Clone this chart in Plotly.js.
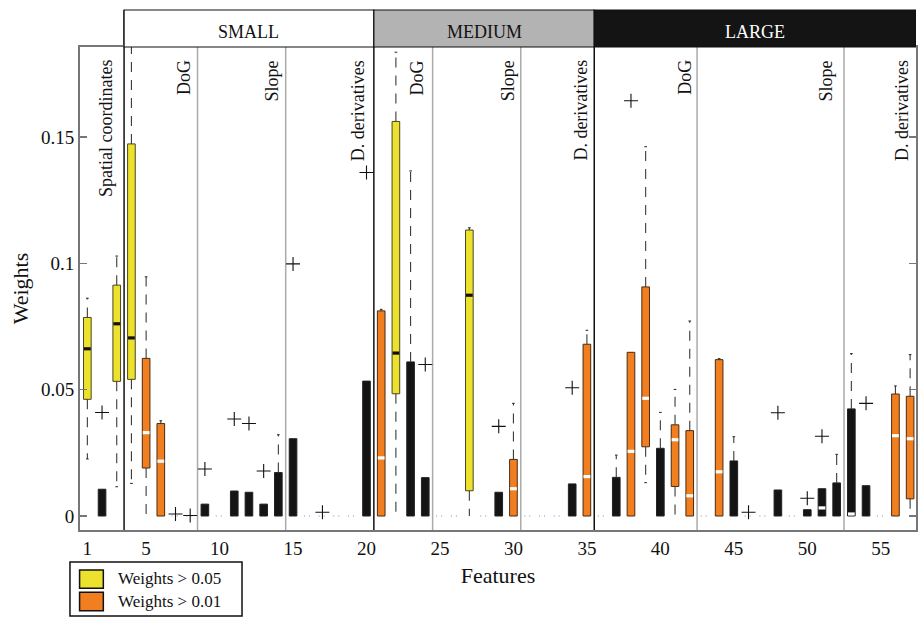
<!DOCTYPE html>
<html><head><meta charset="utf-8">
<script src="https://cdn.plot.ly/plotly-3.0.1.min.js"></script>
<style>body{margin:0;background:#fff}#chart{width:920px;height:617px}</style>
</head><body><div id="chart"></div>
<script>
// ---- data ----
const features = [1,2,3,4,5,6,7,8,9,10,11,12,13,14,15,16,17,18,19,20,21,22,23,24,25,26,27,28,29,30,31,32,33,34,35,36,37,38,39,40,41,42,43,44,45,46,47,48,49,50,51,52,53,54,55,56,57];
// Y = weights > 0.05 (yellow), O = weights > 0.01 (orange), K = other (black)
const colorClass = ['Y','K','Y','Y','O','O','K','K','K','K','K','K','K','K','K','K','K','K','K','K','O','Y','K','K','K','K','Y','K','K','O','K','K','K','K','O','K','K','O','O','K','O','O','K','O','K','K','K','K','K','K','K','K','K','K','K','O','O'];
const q1 = [0.0462,0,0.0533,0.0541,0.019,0,0,0,0,0,0,0,0,0,0,0,0,0,0,0,0,0.0484,0,0,0,0,0.010,0,0,0,0,0,0,0,0,0,0,0,0.0274,0,0.0117,0,0,0,0,0,0,0,0,0,0,0,0,0,0,0,0.0068];
const medianV = [0.0662,0,0.0761,0.0705,0.033,0.0217,0,0,0,0,0,0,0,0,0,0,0,0,0,0,0.023,0.0645,0,0,0,0,0.0874,0,0,0.0108,0,0,0,0,0.0156,0,0,0.0256,0.0466,0,0.0302,0.008,0,0.0175,0,0,0,0,0,0,0.0032,0,0.0008,0,0,0.0318,0.0306];
const q3 = [0.0786,0.0106,0.0914,0.1473,0.0624,0.0366,0,0,0.0047,0,0.0099,0.0094,0.0047,0.0172,0.0306,0,0,0,0,0.0534,0.0812,0.1562,0.061,0.0152,0,0,0.1132,0,0.0094,0.0224,0,0,0,0.0127,0.068,0,0.0153,0.0648,0.0907,0.0268,0.0361,0.0338,0,0.0619,0.0218,0,0,0.0103,0,0.0025,0.0108,0.0131,0.0424,0.012,0,0.0483,0.0474];
const whiskLo = [0.0226,0,0.0116,0.0129,0,0,0,0,0,0,0,0,0,0,0,0,0,0,0,0,0,0,0,0,0,0,0,0,0,0,0,0,0,0,0,0,0,0,0.0132,0,0,0,0,0,0,0,0,0,0,0,0,0,0,0,0,0,0];
const whiskHi = [0.0862,0.0106,0.1029,0.186,0.0947,0.0377,0,0,0.0047,0,0.0099,0.0094,0.0047,0.0322,0.0306,0,0,0,0,0.0534,0.0818,0.1836,0.1366,0.0152,0,0,0.1141,0,0.0094,0.0446,0,0,0,0.0127,0.0735,0,0.0241,0.0648,0.1462,0.041,0.0501,0.0772,0,0.0623,0.0314,0,0,0.0103,0,0.0025,0.0108,0.0244,0.0643,0.012,0,0.0515,0.0639];
const outlierFeature = [2,7,8,9,11,12,13,15,17,20,24,29,34,38,46,48,50,51,54];
const outlierValue = [0.041,0.0008,0.0002,0.0186,0.0384,0.0366,0.0178,0.0998,0.0015,0.136,0.060,0.0355,0.0508,0.1644,0.0015,0.0409,0.007,0.0316,0.0446];
const scaleNames = ['SMALL','MEDIUM','LARGE'];
const scaleStart = [3.5,20.5,35.5];
const scaleEnd = [20.5,35.5,57.4];
const groupLabels = ['Spatial coordinates','DoG','Slope','D. derivatives','DoG','Slope','D. derivatives','DoG','Slope','D. derivatives'];
const groupEnd = [3.5,8.5,14.5,20.5,24.5,30.5,35.5,42.5,52.5,57.4];
const legendClasses = ['Y','O'];
const legendNames = ['Weights > 0.05','Weights > 0.01'];
const xTicks = [1,5,10,15,20,25,30,35,40,45,50,55];
const yTicks = [0,0.05,0.1,0.15];
const yTickText = ['0','0.05','0.1','0.15'];

// ---- styling ----
const FONT = "'Liberation Serif', 'Times New Roman', serif";
const fill = {Y:'#ece22e', O:'#f27f1f', K:'#141414'};
const edge = {Y:'#4a4620', O:'#4a2a12', K:'#222'};
const BW = 0.52, HW = BW/2, CAP = 0.09;

const traces = [];
// whiskers (dashed) from box edge to whisker end
const wx = [], wy = [], cx = [], cy = [];
features.forEach((f,i)=>{
  if (whiskHi[i] > q3[i] + 1e-9) {
    wx.push(f,f,null); wy.push(q3[i],whiskHi[i],null);
    cx.push(f-CAP,f+CAP,null); cy.push(whiskHi[i],whiskHi[i],null);
  }
  if (whiskLo[i] < q1[i] - 1e-9) {
    wx.push(f,f,null); wy.push(q1[i],whiskLo[i],null);
    if (whiskLo[i] > 0) { cx.push(f-CAP,f+CAP,null); cy.push(whiskLo[i],whiskLo[i],null); }
  }
});
traces.push({type:'scatter',mode:'lines',x:wx,y:wy,line:{color:'#3a3a3a',width:1.1,dash:'10px,8px'},hoverinfo:'skip'});
traces.push({type:'scatter',mode:'lines',x:cx,y:cy,line:{color:'#333',width:1.1},hoverinfo:'skip'});

// boxes as bars
['Y','O','K'].forEach(c=>{
  const xs=[], bs=[], hs=[];
  features.forEach((f,i)=>{ if(colorClass[i]===c && q3[i]>0){ xs.push(f); bs.push(q1[i]); hs.push(q3[i]-q1[i]); } });
  const li = legendClasses.indexOf(c);
  traces.push({type:'bar',x:xs,y:hs,base:bs,width:BW,name:li>=0?legendNames[li]:'other',
    marker:{color:fill[c],line:{color:edge[c],width:1}},hoverinfo:'skip'});
});

// zero boxes (dotted)
const zx=[], zy=[];
features.forEach((f,i)=>{ if(q3[i]===0){ zx.push(f-HW,f+HW,null); zy.push(0,0,null);} });
traces.push({type:'scatter',mode:'lines',x:zx,y:zy,line:{color:'#7f86d6',width:1.2,dash:'1px,4px'},hoverinfo:'skip'});

// medians
const mbx=[], mby=[], mwx=[], mwy=[];
features.forEach((f,i)=>{
  if(medianV[i] <= 0) return;
  if(colorClass[i]==='Y'){ mbx.push(f-HW+0.03,f+HW-0.03,null); mby.push(medianV[i],medianV[i],null); }
  else { mwx.push(f-HW+0.03,f+HW-0.03,null); mwy.push(medianV[i],medianV[i],null); }
});
traces.push({type:'scatter',mode:'lines',x:mbx,y:mby,line:{color:'#111',width:3.2},hoverinfo:'skip'});
traces.push({type:'scatter',mode:'lines',x:mwx,y:mwy,line:{color:'#fff',width:3.2},hoverinfo:'skip'});

// outliers
traces.push({type:'scatter',mode:'markers',x:outlierFeature,y:outlierValue,
  marker:{symbol:'cross-thin',size:10,line:{color:'#111',width:1.1}},hoverinfo:'skip'});

// ---- shapes & annotations ----
const shapes=[], annotations=[];
const HEAD_TOP = 1.0766;
const headFill = ['#ffffff','#b3b3b3','#141414'];
const headFont = ['#111','#111','#fff'];
scaleNames.forEach((n,i)=>{
  shapes.push({type:'rect',xref:'x',yref:'paper',x0:scaleStart[i],x1:scaleEnd[i],y0:1,y1:HEAD_TOP,
    fillcolor:headFill[i],line:{color:'#111',width:1.2},layer:'above'});
  annotations.push({xref:'x',yref:'paper',x:(scaleStart[i]+scaleEnd[i])/2,y:1.031,text:n,showarrow:false,
    font:{family:FONT,size:18,color:headFont[i]},xanchor:'center',yanchor:'middle'});
});
groupEnd.forEach((g,i)=>{
  if (g >= 57) return;
  const major = scaleStart.includes(g);
  shapes.push({type:'line',xref:'x',yref:'paper',x0:g,x1:g,y0:0,y1:major?HEAD_TOP:1,
    line:{color:major?'#111':'#aaa',width:1.5},layer:'below'});
});
const labelOffset = [1.27,0.97,0.94,1.1,1.07,0.9,0.9,0.82,1.23,1.0];
groupLabels.forEach((t,i)=>{
  annotations.push({xref:'x',yref:'paper',x:groupEnd[i]-labelOffset[i],y:0.977,text:t,textangle:-90,showarrow:false,
    font:{family:FONT,size:18,color:'#111'},xanchor:'center',yanchor:'top'});
});

// legend box (drawn in paper coordinates below the axis)
shapes.push({type:'rect',xref:'paper',yref:'paper',x0:-0.012,x1:0.1938,y0:-0.178,y1:-0.0663,
  fillcolor:'#fff',line:{color:'#111',width:1.5}});
const legSqY = [[-0.1207,-0.0828],[-0.1671,-0.129]];
const legTxtY = [-0.1014,-0.147];
legendClasses.forEach((c,i)=>{
  shapes.push({type:'rect',xref:'paper',yref:'paper',x0:-0.0005,x1:0.0279,y0:legSqY[i][0],y1:legSqY[i][1],
    fillcolor:fill[c],line:{color:'#111',width:1.5}});
  annotations.push({xref:'paper',yref:'paper',x:0.0426,y:legTxtY[i],text:legendNames[i],showarrow:false,
    font:{family:FONT,size:17,color:'#111'},xanchor:'left',yanchor:'middle'});
});

const layout = {
  width:920,height:617,
  margin:{l:80,r:4,t:47,b:87},
  paper_bgcolor:'#fff',plot_bgcolor:'#fff',
  font:{family:FONT,color:'#111'},
  barmode:'overlay',
  showlegend:false,
  xaxis:{range:[0.5,57.4],tickvals:xTicks,ticks:'',showgrid:false,zeroline:false,
    showline:true,linecolor:'#777',linewidth:2,mirror:true,
    tickfont:{family:FONT,size:19,color:'#111'},
    title:{text:'Features',font:{family:FONT,size:22,color:'#111'},standoff:10}},
  yaxis:{range:[-0.00554,0.18567],tickvals:yTicks,ticktext:yTickText,ticks:'inside',ticklen:7,tickwidth:1.5,tickcolor:'#777',
    showgrid:false,zeroline:false,showline:true,linecolor:'#777',linewidth:2,mirror:'ticks',
    tickfont:{family:FONT,size:19,color:'#111'},
    title:{text:'Weights',font:{family:FONT,size:22,color:'#111'},standoff:6}},
  shapes:shapes,annotations:annotations
};
Plotly.newPlot('chart',traces,layout,{displayModeBar:false,staticPlot:true});
</script></body></html>
